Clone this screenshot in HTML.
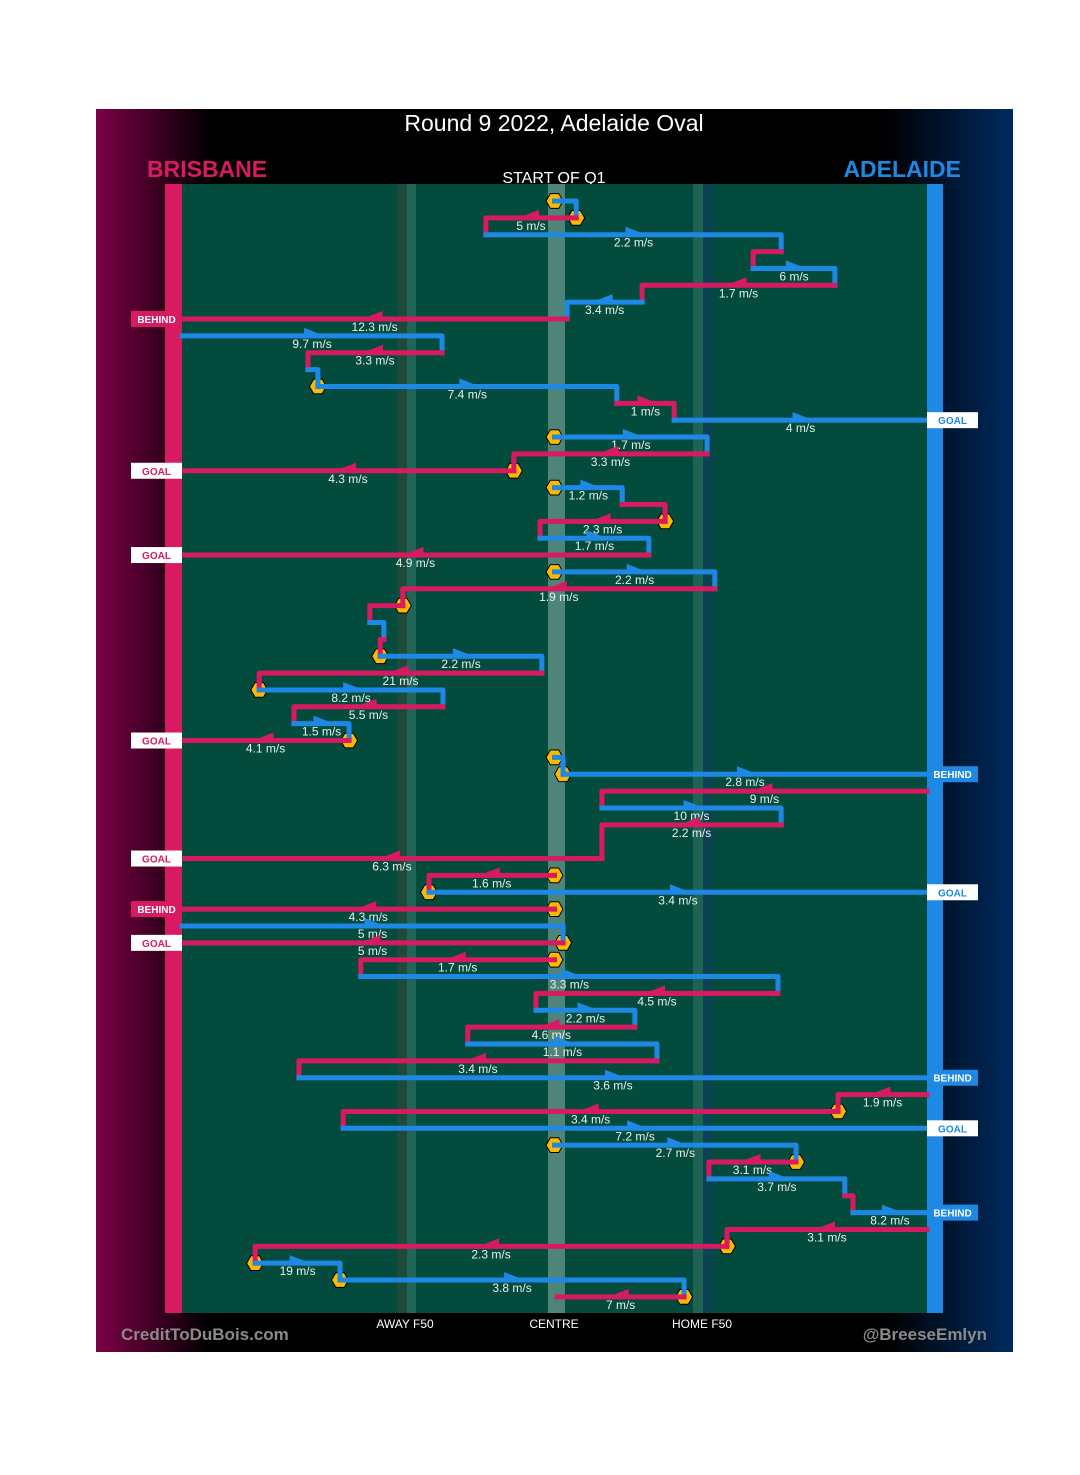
<!DOCTYPE html>
<html><head><meta charset="utf-8"><style>
html,body{margin:0;padding:0;background:#fff;}
svg{display:block;font-family:"Liberation Sans",sans-serif;}
</style></head><body>
<svg id="chart" width="1080" height="1475" viewBox="0 0 1080 1475">
<defs>
<linearGradient id="bgg" x1="0" x2="1" y1="0" y2="0">
<stop offset="0" stop-color="#7d0046"/><stop offset="0.125" stop-color="#000"/>
<stop offset="0.86" stop-color="#000"/><stop offset="1" stop-color="#002b5f"/>
</linearGradient>
</defs>
<rect x="96" y="109" width="917" height="1243" fill="url(#bgg)"/>
<text x="554" y="131" fill="#fff" font-size="23" text-anchor="middle">Round 9 2022, Adelaide Oval</text>
<text x="147" y="177" fill="#d81b60" font-size="23" font-weight="bold">BRISBANE</text>
<text x="961" y="177" fill="#1e88e5" font-size="23" font-weight="bold" text-anchor="end">ADELAIDE</text>
<text x="554" y="183" fill="#fff" font-size="16" text-anchor="middle">START OF Q1</text>
<rect x="182" y="184" width="745" height="1129" fill="#034c3d"/>
<rect x="397" y="184" width="10" height="1129" fill="#1e4a3c"/>
<rect x="407" y="184" width="9" height="1129" fill="#1f6657"/>
<rect x="548" y="184" width="17" height="1129" fill="#4f8579"/>
<rect x="693" y="184" width="10" height="1129" fill="#1f6355"/>
<rect x="703" y="184" width="10" height="1129" fill="#0b4352"/>
<rect x="165" y="184" width="17" height="1129" fill="#d81b60"/>
<rect x="927" y="184" width="16" height="1129" fill="#1e88e5"/>
<g id="marks"></g>
<text x="405" y="1328" fill="#fff" font-size="12" text-anchor="middle">AWAY F50</text>
<text x="554" y="1328" fill="#fff" font-size="12" text-anchor="middle">CENTRE</text>
<text x="702" y="1328" fill="#fff" font-size="12" text-anchor="middle">HOME F50</text>
<text x="121" y="1340" fill="#8a8a8a" font-size="17" font-weight="bold">CreditToDuBois.com</text>
<text x="987" y="1340" fill="#8a8a8a" font-size="17" font-weight="bold" text-anchor="end">@BreeseEmlyn</text>
</svg>
<script>
// event order (row), team (B=Brisbane, A=Adelaide), start/end position in metres from Brisbane goal (0..165)
const steps = [0,1,2,3,4,5,6,7,8,9,10,11,12,13,14,15,16,17,18,19,20,21,22,23,24,25,26,27,28,29,30,31,32,33,34,35,36,37,39,40,41,42,43,44,45,46,47,48,49,50,51,52,53,54,55,56,57,58,59,60,61,62,63,64,65];
const teams = ["A","B","A","B","A","B","A","B","A","B","A","A","B","A","A","B","B","A","B","B","A","B","A","B","B","A","B","A","B","A","B","A","B","A","A","B","A","B","B","B","A","B","A","B","B","A","B","A","B","A","B","A","B","B","A","A","B","A","B","A","B","B","A","A","B"];
const startPos = [82.5,87.3,67.3,132.7,126.5,144.6,101.9,85.3,0,57.6,27.9,30.1,96.3,109.0,82.5,116.3,73.5,82.5,97.5,107.0,79.3,103.4,82.5,118.0,48.9,41.6,44.7,43.9,79.7,17.1,57.8,24.8,37.0,82.5,84.4,165,93.0,132.7,93.0,82.5,54.7,82.5,0,84.4,82.5,39.6,132.0,78.4,100.3,63.3,105.2,25.9,165,145.3,35.7,82.5,136.0,116.7,146.8,148.6,165,120.7,16.2,35.0,111.2];
const endPos = [87.3,67.3,132.7,126.5,144.6,101.9,85.3,0,57.6,27.9,30.1,96.3,109.0,165,116.3,73.5,0,97.5,107.0,79.3,103.4,0,118.0,48.9,41.6,44.7,43.9,79.7,17.1,57.8,24.8,37.0,0,84.4,165,93.0,132.7,93.0,0,54.7,165,0,84.4,0,39.6,132.0,78.4,100.3,63.3,105.2,25.9,165,145.3,35.7,165,136.0,116.7,146.8,148.6,165,120.7,16.2,35.0,111.2,83.1];
const speeds = ["","5","2.2","","6","1.7","3.4","12.3","9.7","3.3","","7.4","1","4","1.7","3.3","4.3","1.2","","2.3","1.7","4.9","2.2","1.9","","","","2.2","21","8.2","5.5","1.5","4.1","","2.8","9","10","2.2","6.3","1.6","3.4","4.3","5","5","1.7","3.3","4.5","2.2","4.6","1.1","3.4","3.6","1.9","3.4","7.2","2.7","3.1","3.7","","8.2","3.1","2.3","19","3.8","7"];
const stoppages = [1,1,0,0,0,0,0,0,0,0,0,1,0,0,1,0,1,1,0,1,0,0,1,0,1,0,0,1,0,1,0,0,1,1,1,0,0,0,0,1,1,1,0,1,1,0,0,0,0,0,0,0,0,1,0,1,1,0,0,0,0,1,1,1,1];
const results = ["","","","","","","","BEHIND","","","","","","GOAL","","","GOAL","","","","","GOAL","","","","","","","","","","","GOAL","","BEHIND","","","","GOAL","","GOAL","BEHIND","","GOAL","","","","","","","","BEHIND","","","GOAL","","","","","BEHIND","","","","",""];

const NS = "http://www.w3.org/2000/svg";
const xScale = m => 182 + m / 165 * 745;
const yScale = s => 201 + s * 16.86;
const colour = t => t === "B" ? "#d81b60" : "#1e88e5";
const g = document.getElementById("marks");
function mk(tag, attrs) { const e = document.createElementNS(NS, tag); for (const k in attrs) e.setAttribute(k, attrs[k]); g.appendChild(e); return e; }

// stoppage hexagons first (under lines)
for (let i = 0; i < steps.length; i++) {
  if (!stoppages[i]) continue;
  const cx = xScale(startPos[i]), cy = yScale(steps[i]), r = 8.5;
  let pts = [];
  for (let k = 0; k < 6; k++) { const a = Math.PI / 3 * k; pts.push((cx + r * Math.cos(a)).toFixed(1) + "," + (cy + r * Math.sin(a)).toFixed(1)); }
  const h = mk("polygon", { points: pts.join(" "), fill: "#fbb901", stroke: "#000", "stroke-width": 1 });
  
  
}
// segments
for (let i = 0; i < steps.length; i++) {
  const x0 = xScale(startPos[i]), x1 = xScale(endPos[i]), y = yScale(steps[i]);
  let d = "M" + x0 + " " + y + " H" + x1;
  if (i + 1 < steps.length && !results[i] && Math.abs(startPos[i + 1] - endPos[i]) < 0.3) d += " V" + yScale(steps[i + 1]);
  const p = mk("path", { d: d, fill: "none", stroke: colour(teams[i]), "stroke-width": 5, "stroke-linecap": "square", "stroke-linejoin": "round" });
  
  
  if (speeds[i]) {
    const m = (x0 + x1) / 2, dir = x1 >= x0 ? 1 : -1, xb = m - dir * 8, xt = m + dir * 10;
    const a = mk("polygon", { points: xb + "," + (y - 8) + " " + xb + "," + (y + 1) + " " + xt + "," + (y - 1), fill: colour(teams[i]) });
    
    
    const t = mk("text", { x: m, y: y + 12, fill: "#e8f0ee", "font-size": 12, "text-anchor": "middle" });
    t.textContent = speeds[i] + " m/s";
    
    
  }
  if (results[i]) {
    const left = endPos[i] < 82.5;
    const bx = left ? 131 : 927, isGoal = results[i] === "GOAL";
    const team = colour(teams[i]);
    const r = mk("rect", { x: bx, y: y - 8, width: 51, height: 16, fill: isGoal ? "#fff" : team });
    
    
    const t = mk("text", { x: bx + 25.5, y: y + 4, fill: isGoal ? team : "#fff", "font-size": 10, "font-weight": "bold", "text-anchor": "middle" });
    t.textContent = results[i];
    
    
  }
}
</script>
</body></html>
